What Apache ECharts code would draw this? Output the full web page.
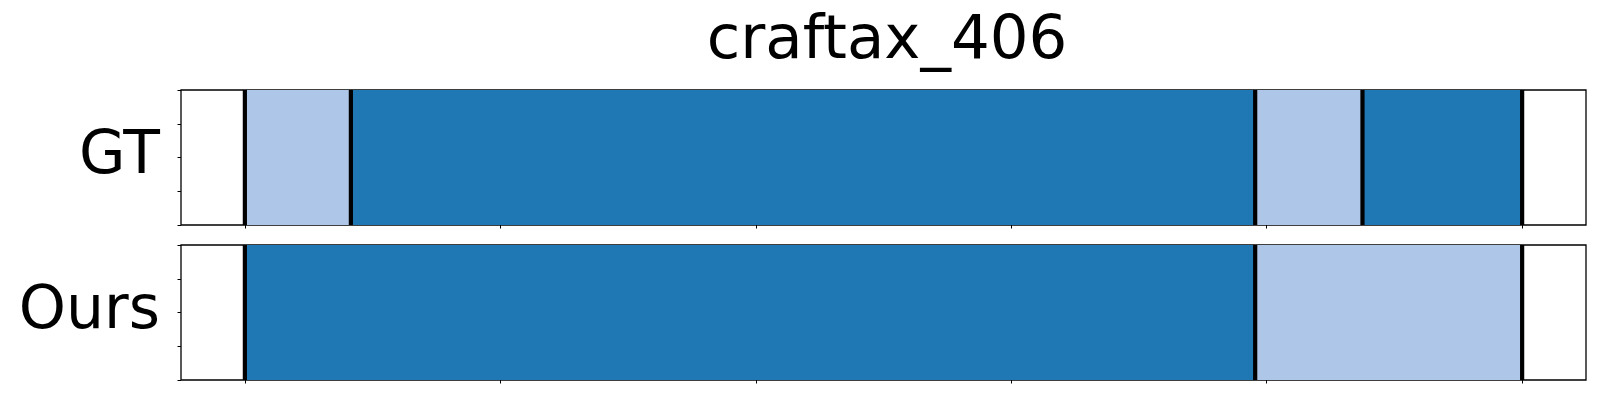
<!DOCTYPE html>
<html>
<head>
<meta charset="utf-8">
<script src="https://cdn.jsdelivr.net/npm/echarts@6/dist/echarts.min.js"></script>
<style>
html,body{margin:0;padding:0;background:#fff;}
#chart{width:1600px;height:400px;}
</style>
</head>
<body>
<div id="chart"></div>
<script>
// ---- data ----
const titleText = 'craftax_406';
const rowNames = ['GT', 'Ours'];
const xMax = 500;
const xTicks = [0, 100, 200, 300, 400, 500];
const yTicks = [0, 0.25, 0.5, 0.75, 1];
const gtBounds = [0, 41.5, 395.5, 437.5, 500];
const gtClasses = [1, 0, 1, 0];      // 0 = dark blue, 1 = light blue
const oursBounds = [0, 395.5, 500];
const oursClasses = [0, 1];
const classColors = ['#1f77b4', '#aec7e8'];

function segData(bounds, classes) {
  const out = [];
  for (let i = 0; i < classes.length; i++) out.push([bounds[i], bounds[i + 1], classes[i]]);
  return out;
}

const chart = echarts.init(document.getElementById('chart'), null, {renderer: 'canvas'});
const FONT = 'DejaVu Sans';
const grids = [
  {left: 181, right: 14, top: 90, height: 135},
  {left: 181, right: 14, top: 245, height: 135}
];
const rows = [[gtBounds, gtClasses], [oursBounds, oursClasses]];

const xAxes = [], yAxes = [], series = [];
grids.forEach((g, i) => {
  g.show = true; g.borderColor = '#000'; g.borderWidth = 1.3; g.backgroundColor = '#fff';
  xAxes.push({
    type: 'value', gridIndex: i, min: -0.05 * xMax, max: 1.05 * xMax, position: 'bottom',
    axisLine: {show: false, onZero: false}, splitLine: {show: false},
    axisLabel: {show: false},
    axisTick: {show: true, inside: false, length: 3.5, customValues: xTicks, lineStyle: {color: '#000', width: 1}}
  });
  yAxes.push({
    type: 'value', gridIndex: i, min: 0, max: 1, position: 'left',
    axisLine: {show: false, onZero: false}, splitLine: {show: false},
    axisLabel: {show: false},
    axisTick: {show: true, inside: false, length: 3.5, customValues: yTicks, lineStyle: {color: '#000', width: 1}},
    name: rowNames[i], nameLocation: 'middle', nameRotate: 0, nameGap: 21,
    nameTextStyle: {fontSize: 60, color: '#000', fontFamily: FONT, align: 'right', verticalAlign: 'middle', padding: [0, 0, 7, 0]}
  });
  const [bounds, classes] = rows[i];
  series.push({
    type: 'custom', xAxisIndex: i, yAxisIndex: i, z: 2,
    data: segData(bounds, classes),
    renderItem: function (params, api) {
      const p0 = api.coord([api.value(0), 1]);
      const p1 = api.coord([api.value(1), 0]);
      return {type: 'rect', shape: {x: p0[0], y: p0[1], width: p1[0] - p0[0], height: p1[1] - p0[1]},
        style: {fill: classColors[api.value(2)]}};
    }
  });
  series.push({
    type: 'custom', xAxisIndex: i, yAxisIndex: i, z: 3,
    data: bounds.map(b => [b]),
    renderItem: function (params, api) {
      const a = api.coord([api.value(0), 1]);
      const b = api.coord([api.value(0), 0]);
      return {type: 'line', shape: {x1: a[0], y1: a[1], x2: b[0], y2: b[1]},
        style: {stroke: '#000', lineWidth: 4.2}};
    }
  });
});

chart.setOption({
  animation: false,
  backgroundColor: '#fff',
  title: {text: titleText, left: 882, top: 7, textAlign: 'center',
    textStyle: {fontSize: 61, fontWeight: 'normal', color: '#000', fontFamily: FONT}},
  grid: grids, xAxis: xAxes, yAxis: yAxes, series: series
});
</script>
</body>
</html>
